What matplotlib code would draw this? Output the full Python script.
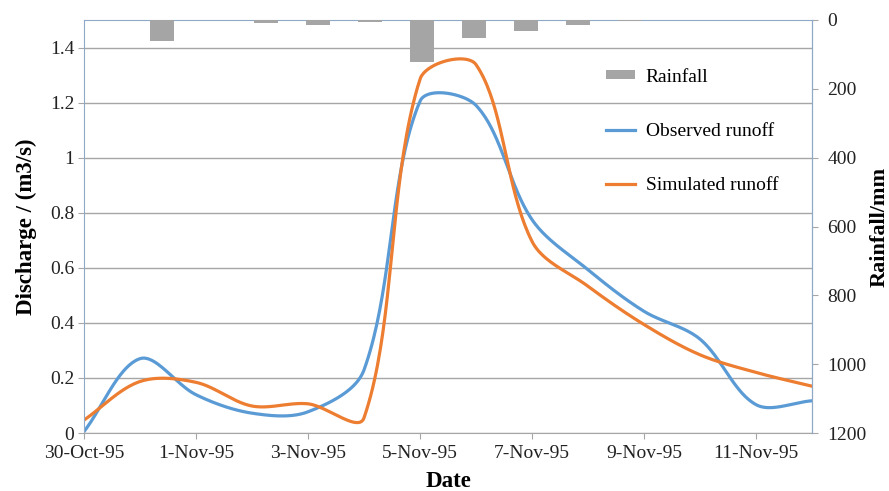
import numpy as np
import matplotlib
matplotlib.use("Agg")
from matplotlib import pyplot as plt
from matplotlib.patches import Patch
from matplotlib.lines import Line2D

plt.rcParams['font.family'] = ['Liberation Serif', 'DejaVu Serif']

dates = ['30-Oct-95', '31-Oct-95', '1-Nov-95', '2-Nov-95', '3-Nov-95', '4-Nov-95',
         '5-Nov-95', '6-Nov-95', '7-Nov-95', '8-Nov-95', '9-Nov-95', '10-Nov-95',
         '11-Nov-95', '12-Nov-95']
observed  = [0.005, 0.27, 0.139, 0.072, 0.077, 0.229, 1.205, 1.19,
             0.775, 0.593, 0.442, 0.341, 0.103, 0.117]
simulated = [0.047, 0.187, 0.184, 0.098, 0.106, 0.055, 1.285, 1.338,
             0.696, 0.533, 0.394, 0.284, 0.22, 0.17]
rainfall  = [0, 61, 0, 10, 14, 7, 121, 52, 32, 14, 2, 0, 0, 0]

BLUE   = '#5B9BD5'
ORANGE = '#ED7D31'
GREY   = '#A5A5A5'
AXIS   = '#8EA9C8'

# pixel scale of one day / one m3/s, used to weight the smoothing
SX, SY = 56.0, 275.0


def smooth(y, n=40):
    # bezier through every point with tangents weighted by screen chord length
    p = np.column_stack([np.arange(len(y)) * SX, np.asarray(y, float) * SY])
    m = len(p)
    d = np.hypot(*np.diff(p, axis=0).T)
    out = []
    t = np.linspace(0, 1, n, endpoint=False)[:, None]
    for i in range(m - 1):
        p1, p2 = p[i], p[i + 1]
        if i == 0:
            c1 = p1 + (p2 - p1) / 3
        else:
            c1 = p1 + (p2 - p[i - 1]) * d[i] / (d[i - 1] + d[i]) / 3
        if i == m - 2:
            c2 = p2 - (p2 - p1) / 3
        else:
            c2 = p2 - (p[i + 2] - p1) * d[i] / (d[i] + d[i + 1]) / 3
        seg = ((1 - t) ** 3 * p1 + 3 * (1 - t) ** 2 * t * c1 +
               3 * (1 - t) * t ** 2 * c2 + t ** 3 * p2)
        out.append(seg)
    out.append(p[-1:])
    out = np.vstack(out)
    return out[:, 0] / SX, out[:, 1] / SY


fig = plt.figure(figsize=(8.89, 4.91), dpi=100)
pos = [84 / 889, 1 - 433 / 491, (812 - 84) / 889, (433 - 20) / 491]

# discharge axes (left)
ax = fig.add_axes(pos)
days = np.arange(len(dates))
for series, color in ((observed, BLUE), (simulated, ORANGE)):
    sx, sy = smooth(series)
    ax.plot(sx, sy, color=color, lw=2.3, solid_capstyle='round')

ax.set_xlim(0, len(dates) - 1)
ax.set_ylim(0, 1.5)
ax.set_yticks(np.arange(0, 1.41, 0.2))
ax.set_yticklabels(['0', '0.2', '0.4', '0.6', '0.8', '1', '1.2', '1.4'])
ax.set_xticks(days[::2])
ax.set_xticklabels(dates[::2])
ax.yaxis.grid(True, color='#A6A6A6', lw=1)
ax.set_axisbelow(True)
ax.tick_params(labelsize=14, colors='#222222', length=4, width=0.8, pad=3)
ax.tick_params(axis='x', pad=5)
ax.tick_params(axis='both', color='#A6A6A6')
for side in ('left', 'top', 'right'):
    ax.spines[side].set_color(AXIS)
ax.spines['bottom'].set_color('#A6A6A6')
ax.set_xlabel('Date', fontsize=16.5, fontweight='bold', labelpad=6)
ax.set_ylabel('Discharge / (m3/s)', fontsize=16.5, fontweight='bold', labelpad=9)

# rainfall axes (right, inverted), own category axis
axr = fig.add_axes(pos)
axr.patch.set_visible(False)
axr.bar(days, rainfall, width=0.46, color=GREY)
axr.set_xlim(-0.5, len(dates) - 0.5)
axr.set_ylim(1200, 0)
axr.set_yticks(np.arange(0, 1201, 200))
axr.xaxis.set_visible(False)
axr.yaxis.tick_right()
axr.yaxis.set_label_position('right')
axr.tick_params(labelsize=14, colors='#222222', length=4, width=0.8, pad=7)
axr.tick_params(axis='y', color='#A6A6A6')
for side in ('left', 'top', 'bottom'):
    axr.spines[side].set_visible(False)
axr.spines['right'].set_color(AXIS)
axr.set_ylabel('Rainfall/mm', fontsize=16, fontweight='bold', labelpad=2)

handles = [Patch(facecolor=GREY, edgecolor='none'),
           Line2D([], [], color=BLUE, lw=2.3),
           Line2D([], [], color=ORANGE, lw=2.3)]
labels = ['Rainfall', 'Observed runoff', 'Simulated runoff']
axr.legend(handles, labels, loc='upper left', frameon=False,
           bbox_to_anchor=(596 / 889, 1 - 59 / 491), bbox_transform=fig.transFigure,
           fontsize=14, labelspacing=1.9, handlelength=1.5, handleheight=0.35,
           handletextpad=0.55, borderpad=0)

fig.savefig('out.png', dpi=100)
